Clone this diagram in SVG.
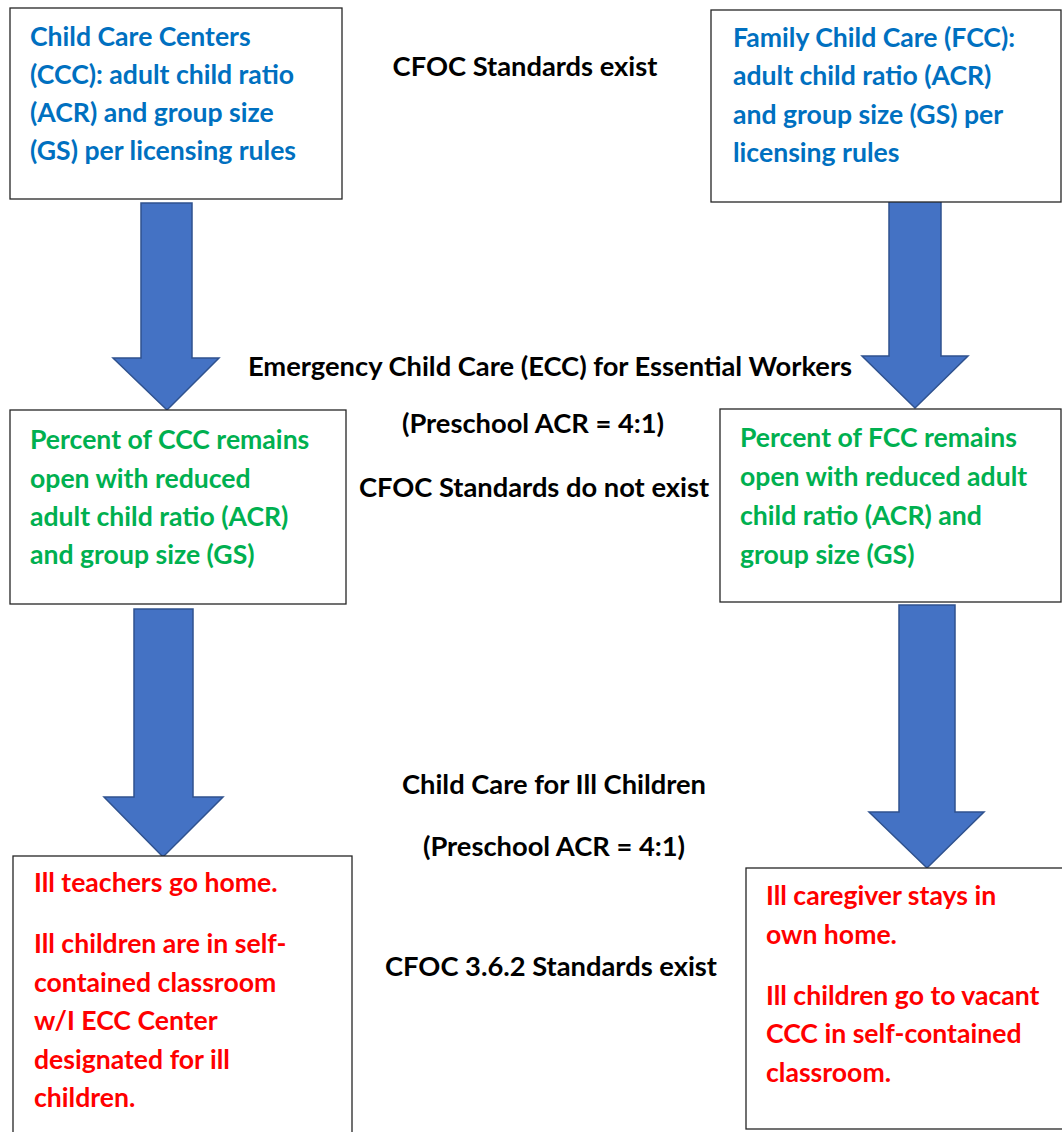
<svg xmlns="http://www.w3.org/2000/svg" width="1062" height="1132" viewBox="0 0 1062 1132">
<style>
.box{fill:#fff;stroke:#262626;stroke-width:1.3}
.arrow{fill:#4472C4;stroke:#2F528F;stroke-width:1.5;stroke-linejoin:miter}
text{font-family:Lato,"Liberation Sans",sans-serif;font-weight:bold;font-size:26.6px}
.blue{fill:#0070C0}
.green{fill:#00B050}
.red{fill:#FF0000}
.blk{fill:#000;text-anchor:middle;font-size:27.3px}
</style>
<rect width="1062" height="1132" fill="#fff"/>
<g id="connectors">
<polygon class="arrow" points="141,203 192,203 192,358 219,358 167,410 113,358 141,358"/>
<polygon class="arrow" points="889,201 941,201 941,356 968,356 915,408 862,356 889,356"/>
<polygon class="arrow" points="134,609 193,609 193,797 223,797 163,857 104,797 134,797"/>
<polygon class="arrow" points="899,605 955,605 955,812 984,812 927,868 869,812 899,812"/>
</g>
<g id="node-ccc">
<rect class="box" x="10" y="8" width="332" height="191"/>
<text class="blue"><tspan x="30" y="46">Child Care Centers</tspan><tspan x="30" y="84">(CCC): adult child ratio</tspan><tspan x="30" y="122">(ACR) and group size</tspan><tspan x="30" y="160">(GS) per licensing rules</tspan></text>
</g>
<g id="node-fcc">
<rect class="box" x="711" y="10" width="350" height="192"/>
<text class="blue"><tspan x="733" y="47">Family Child Care (FCC):</tspan><tspan x="733" y="85">adult child ratio (ACR)</tspan><tspan x="733" y="124">and group size (GS) per</tspan><tspan x="733" y="162">licensing rules</tspan></text>
</g>
<g id="node-ccc-ecc">
<rect class="box" x="10" y="410" width="336" height="194"/>
<text class="green"><tspan x="30" y="449">Percent of CCC remains</tspan><tspan x="30" y="488">open with reduced</tspan><tspan x="30" y="526">adult child ratio (ACR)</tspan><tspan x="30" y="564">and group size (GS)</tspan></text>
</g>
<g id="node-fcc-ecc">
<rect class="box" x="720" y="409" width="341" height="193"/>
<text class="green"><tspan x="740" y="447">Percent of FCC remains</tspan><tspan x="740" y="486">open with reduced adult</tspan><tspan x="740" y="525">child ratio (ACR) and</tspan><tspan x="740" y="564">group size (GS)</tspan></text>
</g>
<g id="node-ccc-ill">
<rect class="box" x="13" y="856" width="339" height="290"/>
<text class="red"><tspan x="34" y="892">Ill teachers go home.</tspan><tspan x="34" y="953">Ill children are in self-</tspan><tspan x="34" y="992">contained classroom</tspan><tspan x="34" y="1030">w/I ECC Center</tspan><tspan x="34" y="1069">designated for ill</tspan><tspan x="34" y="1107">children.</tspan></text>
</g>
<g id="node-fcc-ill">
<rect class="box" x="746" y="868" width="330" height="261"/>
<text class="red"><tspan x="766" y="905">Ill caregiver stays in</tspan><tspan x="766" y="944">own home.</tspan><tspan x="766" y="1005">Ill children go to vacant</tspan><tspan x="766" y="1043">CCC in self-contained</tspan><tspan x="766" y="1082">classroom.</tspan></text>
</g>
<g id="labels">
<text class="blk" x="525" y="76">CFOC Standards exist</text>
<text class="blk" x="550" y="376">Emergency Child Care (ECC) for Essential Workers</text>
<text class="blk" x="533" y="433">(Preschool ACR = 4:1)</text>
<text class="blk" x="534" y="497">CFOC Standards do not exist</text>
<text class="blk" x="554" y="794">Child Care for Ill Children</text>
<text class="blk" x="554" y="856">(Preschool ACR = 4:1)</text>
<text class="blk" x="551" y="976">CFOC 3.6.2 Standards exist</text>
</g>
</svg>
